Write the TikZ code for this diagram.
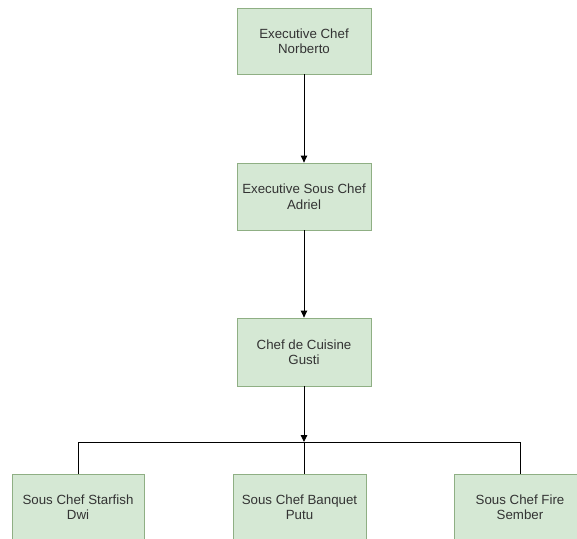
\documentclass[tikz,border=0pt]{standalone}
\usepackage{fontspec}
\setmainfont{Liberation Sans}
\usetikzlibrary{arrows.meta}
\definecolor{boxfill}{HTML}{D5E8D4}
\definecolor{boxline}{HTML}{8FAF84}
\definecolor{txt}{HTML}{333333}
\tikzset{
  role/.style={draw=boxline, fill=boxfill, line width=0.8pt, minimum width=134pt, minimum height=66pt,
    inner sep=0pt, align=center, text=txt, font=\fontsize{13.3}{15.5}\selectfont},
  link/.style={draw=black, line width=0.9pt},
  arr/.style={link, -{Triangle[length=7pt,width=6.5pt]}}
}
\begin{document}
\begin{tikzpicture}[x=1pt,y=-1pt]
\useasboundingbox[fill=white] (0,0) rectangle (577,538);
\node[role] (ec) at (304,41) {Executive Chef\\Norberto};
\node[role, minimum height=67pt] (esc) at (304,196.5) {Executive Sous Chef\\Adriel};
\node[role, minimum height=68pt] (cdc) at (304,352) {Chef de Cuisine\\Gusti};
\node[role, minimum width=132pt] (s1) at (78,507) {Sous Chef Starfish\\Dwi};
\node[role, minimum width=133pt] (s2) at (299.5,507) {Sous Chef Banquet\\Putu};
\node[role, minimum width=132pt] (s3) at (520,507) {Sous Chef Fire\\Sember};
\coordinate (j) at (304,442);
\draw[arr] (ec.south) -- (esc.north);
\draw[arr] (esc.south) -- (cdc.north);
\draw[arr] (cdc.south) -- (j);
\draw[link] (s1.north) -- (s1.north |- j) -- (s3.north |- j) -- (s3.north);
\draw[link] (j) -- (j |- s2.north);
\end{tikzpicture}
\end{document}
